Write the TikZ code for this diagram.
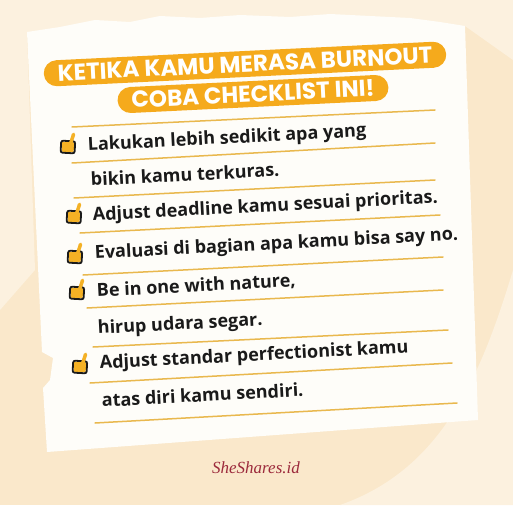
\documentclass[tikz,border=0pt]{standalone}
\usepackage{fontspec}
\setmainfont{Open Sans}
\newfontfamily\titlefont{Poppins}
\newfontfamily\footfont{Liberation Serif}
\usepackage{tikz}
\definecolor{bgbeige}{HTML}{FAE8CB}
\definecolor{bglight}{HTML}{FCF1DF}
\definecolor{paperwhite}{HTML}{FEFDF9}
\definecolor{titleorange}{HTML}{F5AA1C}
\definecolor{ruleyellow}{HTML}{E9B84E}
\definecolor{tickyellow}{HTML}{F4B125}
\definecolor{inkblack}{HTML}{1A1A1A}
\definecolor{footred}{HTML}{9C2A3C}

\begin{document}
\begin{tikzpicture}[x=1pt,y=-1pt]
            \tikzstyle{titlebar}=[fill=titleorange,text=white,rounded corners=13pt,rotate=2.8,inner xsep=14pt,inner ysep=5pt,text height=16pt,text depth=0pt,font=\titlefont\bfseries\fontsize{23}{23}\selectfont]
            \tikzstyle{itemtext}=[anchor=base west,rotate=3,inner sep=0pt,text=inkblack,font=\bfseries\fontsize{18}{18}\selectfont]
            \tikzstyle{rule}=[draw=ruleyellow,line width=1.5pt,line cap=round]
            \tikzset{tickbox/.pic={
                \fill[tickyellow] (-6,-3) rectangle (6,7);
                \draw[inkblack,line width=1.8pt,rounded corners=2pt] (-7,-4) rectangle (7,8);
                \draw[tickyellow,line width=3.5pt,line cap=round,line join=round] (-3,0) -- (1,4) -- (5,-11);
            }}
            \useasboundingbox (0,0) rectangle (513,505);
            \fill[bgbeige] (0,0) rectangle (513,505);
            \fill[bglight] (0,0) -- (290,0) -- (290,20) -- (27,32) -- (35,270) -- (0,310) -- cycle;
            \fill[bglight] (290,0) -- (513,0) -- (513,60) -- (465,26) -- (290,20) -- cycle;
            \fill[bglight] (513,270) .. controls (480,380) and (440,470) .. (340,505) -- (513,505) -- cycle;
            \fill[paperwhite] (27,32) -- (60,27) -- (95,20) -- (130,22) -- (160,16) -- (200,18) -- (240,15)
                -- (290,17) -- (330,14) -- (370,16) -- (410,18) -- (440,22) -- (465,26)
                -- (478,420) -- (47,452) -- (43,388) -- (50,380) -- (53,358) -- (42,352) -- cycle;
            \node[titlebar] (title2) at (253,94) {COBA CHECKLIST INI!};
            \node[titlebar] (title1) at (245,64) {KETIKA KAMU MERASA BURNOUT};
            \draw[rule] (72,127) -- (435,110);
            \draw[rule] (72,163) -- (435,143);
            \draw[rule] (74,198) -- (435,180);
            \draw[rule] (80,233) -- (440,215);
            \draw[rule] (83,275) -- (443,257);
            \draw[rule] (87,308) -- (443,290);
            \draw[rule] (93,347) -- (448,330);
            \draw[rule] (90,383) -- (452,363);
            \draw[rule] (95,423) -- (457,403);
            \foreach \cx/\cy in {68/145,74/215,75/255,77/291,80/365}
                \pic[rotate=-3] at (\cx,\cy) {tickbox};
            \node[itemtext] (item1) at (88,151) {Lakukan lebih sedikit apa yang};
            \node[itemtext] (item1b) at (91,186) {bikin kamu terkuras.};
            \node[itemtext] (item2) at (93,221) {Adjust deadline kamu sesuai prioritas.};
            \node[itemtext] (item3) at (95,259) {Evaluasi di bagian apa kamu bisa say no.};
            \node[itemtext] (item4) at (97,297) {Be in one with nature,};
            \node[itemtext] (item4b) at (98,334) {hirup udara segar.};
            \node[itemtext] (item5) at (100,369) {Adjust standar perfectionist kamu};
            \node[itemtext] (item5b) at (102,407) {atas diri kamu sendiri.};
            \node[text=footred,font=\footfont\itshape\fontsize{17}{17}\selectfont] (brand) at (256,468) {SheShares.id};
        \end{tikzpicture}
\end{document}
